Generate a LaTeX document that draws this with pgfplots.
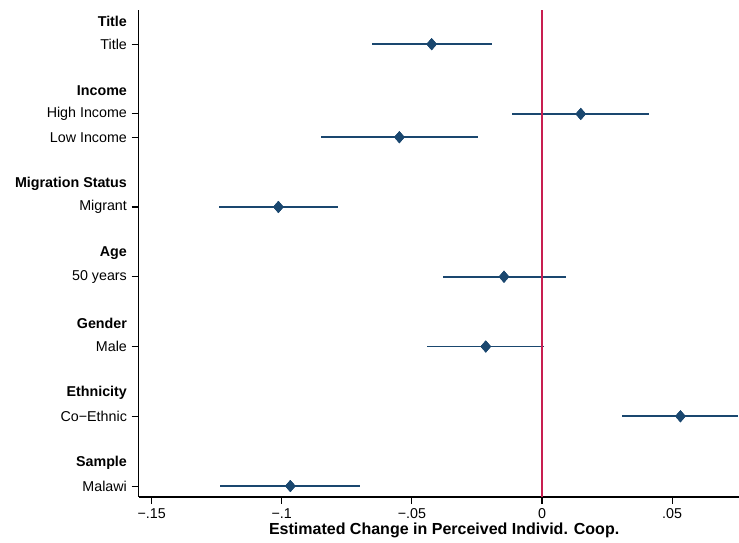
\documentclass[border=0pt]{standalone}
\usepackage{fontspec}
\setmainfont{Liberation Sans}
\usepackage{pgfplots}
\usepackage{pgfplotstable}
\pgfplotsset{compat=1.18}
\definecolor{stnavy}{RGB}{26,71,111}
\definecolor{stred}{RGB}{200,30,80}
\pgfplotstableread{
x y em ep
-0.0424 1 0.0231 0.0231
0.0149 4 0.0265 0.0264
-0.0548 5 0.0303 0.0304
-0.1013 8 0.0230 0.0231
-0.0146 11 0.0233 0.0237
-0.0216 14 0.0224 0.0223
0.0532 17 0.0224 0.0222
-0.0967 20 0.0270 0.0267
}\coefs
\begin{document}
\begin{tikzpicture}
\begin{axis}[
  name=ax,
  scale only axis,
  width=450pt, height=365pt,
  xmin=-0.1550, xmax=0.0757,
  ymin=-0.47, ymax=20.47,
  y dir=reverse,
  axis x line=bottom, axis y line=left,
  axis line style={-, line width=0.8pt, black},
  tick align=outside,
  major tick length=5.25pt,
  tick style={line width=0.8pt, black},
  font=\fontsize{10.7}{12.8}\selectfont,
  xtick={-0.15,-0.1,-0.05,0,0.05},
  xticklabels={−.15,−.1,−.05,0,.05},
  ytick={1,4,5,8,11,14,17,20},
  yticklabels={Title,High Income,Low Income,Migrant,50 years,Male,Co−Ethnic,Malawi},
  extra y ticks={0,3,7,10,13,16,19},
  extra y tick labels={\textbf{Title},\textbf{Income},\textbf{Migration Status},\textbf{Age},\textbf{Gender},\textbf{Ethnicity},\textbf{Sample}},
  extra y tick style={tick style={draw=none}},
  xlabel={\textbf{Estimated Change in Perceived Individ. Coop.}},
  xlabel style={font=\fontsize{12}{14}\selectfont, yshift=4pt, xshift=4pt},
  clip=false,
]
\addplot[color=stnavy, line width=1.4pt, mark=diamond*, mark size=4.3pt,
  mark options={xscale=1.15, fill=stnavy, draw=stnavy, line width=0.3pt},
  only marks,
  error bars/.cd, x dir=both, x explicit, error mark=none,
  error bar style={line width=1.4pt, stnavy}]
  table[x=x, y=y, x error plus=ep, x error minus=em] {\coefs};
\addplot[stred, line width=1.4pt] coordinates {(0,-0.47) (0,20.47)};
\addplot[color=stnavy, only marks, mark=diamond*, mark size=4.3pt,
  mark options={xscale=1.15, fill=stnavy, draw=stnavy, line width=0.3pt}]
  table[x=x, y=y] {\coefs};
\end{axis}
\pgfresetboundingbox
\path[use as bounding box] ([xshift=-103.9pt,yshift=-33.75pt]ax.south west) rectangle ([yshift=7.5pt]ax.north east);
\end{tikzpicture}
\end{document}
